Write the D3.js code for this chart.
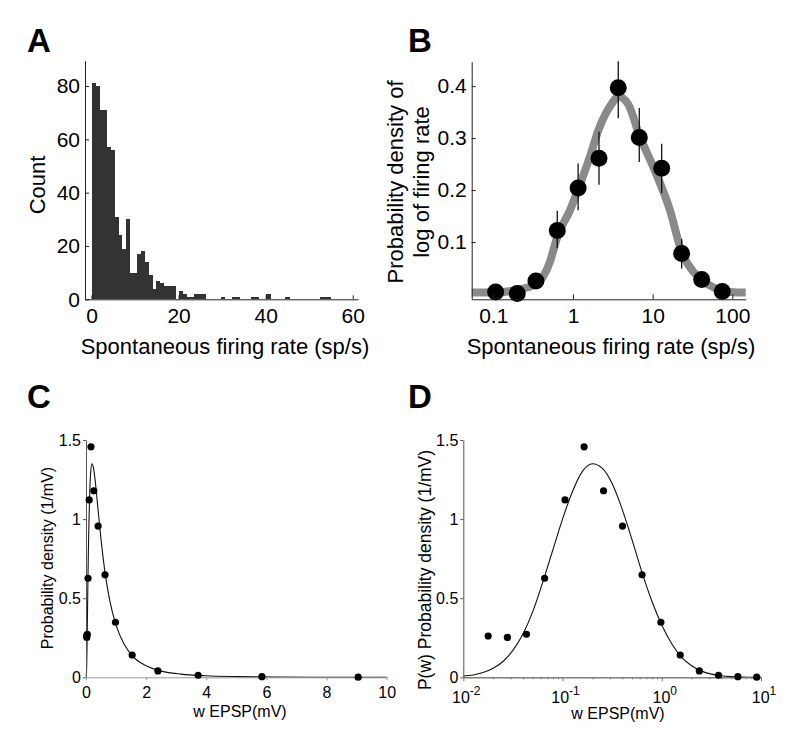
<!DOCTYPE html>
<html><head><meta charset="utf-8">
<script src="https://cdn.jsdelivr.net/npm/d3@7"></script>
<style>
body{margin:0;background:#fff}
svg{display:block}
text{font-family:"Liberation Sans",Arial,Helvetica,sans-serif}
</style>
</head><body>
<svg id="chart" width="800" height="748"></svg>
<script>
// ---------- Panel A : histogram of spontaneous firing rate ----------
const histBinWidth = 0.873;
const histCounts = [81,80,71,71,57,56,31,24,19,30,10,10,17,18,14,9,4,7,6,5,5,5,0,3,2,1,1,2,2,2,
  0,0,0,0,1,0,0,1,1,0,0,0,1,1,0,0,2,0,0,0,0,1,0,0,0,0,0,0,0,0,1,1,1];
const countTicks = [0,20,40,60,80];
const rateTicksA = [0,20,40,60];

// ---------- Panel B : density of log firing rate ----------
const rateB   = [0.107,0.2,0.343,0.635,1.16,2.12,3.70,6.79,12.97,23.1,41.2,74.7];
const densB   = [0.004,0.001,0.025,0.122,0.204,0.261,0.397,0.301,0.242,0.078,0.028,0.005];
const errLoB  = [0.001,-0.002,0.015,0.088,0.161,0.210,0.338,0.254,0.194,0.049,0.016,0.002];
const errHiB  = [0.007,0.004,0.035,0.160,0.251,0.312,0.448,0.358,0.289,0.106,0.042,0.008];
const fitRateB = [0.0536,0.110,0.197,0.343,0.514,0.635,0.916,1.17,1.63,2.08,2.65,3.06,3.70,4.94,6.79,10.2,16.5,23.1,32.3,40.4,57.5,76.9,113,147];
const fitDensB = [0.003,0.003,0.008,0.019,0.062,0.110,0.161,0.203,0.264,0.315,0.351,0.366,0.380,0.365,0.306,0.244,0.161,0.081,0.043,0.028,0.013,0.006,0.003,0.003];
const rateTicksB = [0.1,1,10,100];
const densTicksB = [0.1,0.2,0.3,0.4];

// ---------- Panels C & D : EPSP amplitude distribution ----------
const epspW = [0.0178,0.0278,0.0433,0.066,0.106,0.165,0.259,0.402,0.633,0.98,1.535,2.39,3.73,5.85,9.05];
const epspP = [0.261,0.252,0.272,0.626,1.121,1.457,1.179,0.956,0.648,0.348,0.141,0.040,0.013,0.004,0.001];
const fitW = [0.01,0.0126,0.0158,0.02,0.0251,0.0316,0.0398,0.0501,0.0631,0.0794,0.1,0.126,0.158,0.2,0.251,0.316,0.398,0.501,0.631,0.794,1,1.26,1.58,2.0,2.51,3.16,3.98,5.01,6.31,7.94,10];
const fitP = [0.008,0.015,0.030,0.057,0.100,0.170,0.272,0.415,0.600,0.800,1.000,1.175,1.300,1.350,1.322,1.225,1.065,0.870,0.665,0.482,0.330,0.212,0.128,0.073,0.039,0.020,0.0096,0.0043,0.0018,0.0007,0.0003];
const pTicks = [0,0.5,1,1.5];
const wTicksC = [0,2,4,6,8,10];
const wExpD = [-2,-1,0,1];

const svg = d3.select("#chart");
const FONT = '"Liberation Sans",Arial,Helvetica,sans-serif';

function styleAxis(g, size, lineColor){
  g.attr("font-family", FONT).attr("font-size", size);
  g.select(".domain").attr("stroke", lineColor).attr("stroke-width", 1);
  g.selectAll(".tick line").attr("stroke", lineColor);
  g.selectAll(".tick text").attr("fill", "#000");
}

// panel letters
[["A",27,52],["B",408,52],["C",27,408],["D",408,408]].forEach(([t,x,y])=>{
  svg.append("text").attr("x",x).attr("y",y).attr("font-size",33).attr("font-weight","bold").text(t);
});

// ===== Panel A =====
const xA = d3.scaleLinear().domain([-1.5, 61.2]).range([85, 358]);
const yA = d3.scaleLinear().domain([0, 89.5]).range([299.3, 60.7]);
const histData = histCounts.map((c,i)=>({c, x0:i*histBinWidth, x1:(i+1)*histBinWidth})).filter(d=>d.c>0);
svg.append("g").attr("shape-rendering","crispEdges").selectAll("rect").data(histData).join("rect")
  .attr("x", d=>xA(d.x0)).attr("width", d=>xA(d.x1)-xA(d.x0)+0.4)
  .attr("y", d=>yA(d.c)).attr("height", d=>yA(0)-yA(d.c))
  .attr("fill", "#333");
const gAy = svg.append("g").attr("transform","translate(85,0)")
  .call(d3.axisLeft(yA).tickValues(countTicks).tickSize(-4).tickSizeOuter(0).tickPadding(5));
styleAxis(gAy, 21, "#222");
const gAx = svg.append("g").attr("transform","translate(0,299.3)")
  .call(d3.axisBottom(xA).tickValues(rateTicksA).tickSize(-4).tickSizeOuter(0).tickPadding(9));
styleAxis(gAx, 21, "#222");
svg.append("text").attr("x",225).attr("y",354).attr("text-anchor","middle").attr("font-size",22)
  .text("Spontaneous firing rate (sp/s)");
svg.append("text").attr("transform","translate(45,185) rotate(-90)").attr("text-anchor","middle")
  .attr("font-size",22).text("Count");

// ===== Panel B =====
const xB = d3.scaleLog().domain([0.0536, 147]).range([471.7, 745.7]);
const yB = d3.scaleLinear().domain([-0.0102, 0.447]).range([299.3, 61.7]);
const fitB = fitRateB.map((r,i)=>({r, d:fitDensB[i]}));
svg.append("path").datum(fitB)
  .attr("d", d3.line().x(d=>xB(d.r)).y(d=>yB(d.d)).curve(d3.curveMonotoneX))
  .attr("fill","none").attr("stroke","#8a8a8a").attr("stroke-width",8).attr("stroke-linejoin","round");
const ptsB = rateB.map((r,i)=>({r, d:densB[i], lo:errLoB[i], hi:errHiB[i]}));
svg.append("g").selectAll("line").data(ptsB).join("line")
  .attr("x1", d=>xB(d.r)).attr("x2", d=>xB(d.r))
  .attr("y1", d=>yB(d.lo)).attr("y2", d=>yB(d.hi))
  .attr("stroke","#111").attr("stroke-width",1.3);
svg.append("g").selectAll("circle").data(ptsB).join("circle")
  .attr("cx", d=>xB(d.r)).attr("cy", d=>yB(d.d)).attr("r", 8.5).attr("fill","#000");
const gBy = svg.append("g").attr("transform","translate(471.7,0)")
  .call(d3.axisLeft(yB).tickValues(densTicksB).tickFormat(d3.format(".1f")).tickSize(-4).tickSizeOuter(0).tickPadding(5));
styleAxis(gBy, 21, "#222");
const gBx = svg.append("g").attr("transform","translate(0,299.3)")
  .call(d3.axisBottom(xB).tickValues(rateTicksB).tickFormat(d=>String(d)).tickSize(-5).tickSizeOuter(0).tickPadding(9));
styleAxis(gBx, 21, "#222");
svg.append("text").attr("x",611).attr("y",354).attr("text-anchor","middle").attr("font-size",22)
  .text("Spontaneous firing rate (sp/s)");
svg.append("text").attr("transform","translate(403,182) rotate(-90)").attr("text-anchor","middle")
  .attr("font-size",22).text("Probability density of");
svg.append("text").attr("transform","translate(429,182) rotate(-90)").attr("text-anchor","middle")
  .attr("font-size",22).text("log of firing rate");

// ===== Panel C =====
const xC = d3.scaleLinear().domain([0, 10]).range([86, 386.7]);
const yC = d3.scaleLinear().domain([0, 1.5]).range([677.3, 440]);
const fitPts = fitW.map((w,i)=>({w, p:fitP[i]}));
const epspPts = epspW.map((w,i)=>({w, p:epspP[i]}));
svg.append("path").datum(fitPts)
  .attr("d", d3.line().x(d=>xC(d.w)).y(d=>yC(d.p)).curve(d3.curveMonotoneX))
  .attr("fill","none").attr("stroke","#111").attr("stroke-width",1.1);
const gCy = svg.append("g").attr("transform","translate(86,0)")
  .call(d3.axisLeft(yC).tickValues(pTicks).tickFormat(d=>String(d)).tickSize(3).tickSizeOuter(0).tickPadding(2));
styleAxis(gCy, 16, "#555");
const gCx = svg.append("g").attr("transform","translate(0,677.3)")
  .call(d3.axisBottom(xC).tickValues(wTicksC).tickSize(3).tickSizeOuter(0).tickPadding(6));
styleAxis(gCx, 16, "#999");
svg.append("g").selectAll("circle").data(epspPts).join("circle")
  .attr("cx", d=>xC(d.w)).attr("cy", d=>yC(d.p)).attr("r", 3.6).attr("fill","#000");
svg.append("text").attr("x",240).attr("y",717).attr("text-anchor","middle").attr("font-size",16)
  .text("w EPSP(mV)");
svg.append("text").attr("transform","translate(52.5,558) rotate(-90)").attr("text-anchor","middle")
  .attr("font-size",16).text("Probability density (1/mV)");

// ===== Panel D =====
const xD = d3.scaleLog().domain([0.01, 10]).range([463.3, 761]);
const yD = d3.scaleLinear().domain([0, 1.5]).range([677.3, 440]);
svg.append("path").datum(fitPts)
  .attr("d", d3.line().x(d=>xD(d.w)).y(d=>yD(d.p)).curve(d3.curveMonotoneX))
  .attr("fill","none").attr("stroke","#111").attr("stroke-width",1.1);
const gDy = svg.append("g").attr("transform","translate(463.3,0)")
  .call(d3.axisLeft(yD).tickValues(pTicks).tickFormat(d=>String(d)).tickSize(3).tickSizeOuter(0).tickPadding(2));
styleAxis(gDy, 16, "#555");
const minorD = [];
wExpD.slice(0,-1).forEach(e=>{ for(let k=2;k<=9;k++) minorD.push(k*Math.pow(10,e)); });
const gDxm = svg.append("g").attr("transform","translate(0,677.3)")
  .call(d3.axisBottom(xD).tickValues(minorD).tickFormat("").tickSize(2).tickSizeOuter(0));
styleAxis(gDxm, 16, "#777");
const gDx = svg.append("g").attr("transform","translate(0,677.3)")
  .call(d3.axisBottom(xD).tickValues(wExpD.map(e=>Math.pow(10,e))).tickFormat("").tickSize(4).tickSizeOuter(0));
styleAxis(gDx, 16, "#777");
const dLab = svg.append("g").selectAll("text").data(wExpD).join("text")
  .attr("x", e=>xD(Math.pow(10,e))+3).attr("y",703).attr("text-anchor","middle").attr("font-size",16);
dLab.append("tspan").text("10");
dLab.append("tspan").attr("dy",-8).attr("font-size",12).text(e=>String(e));
svg.append("g").selectAll("circle").data(epspPts).join("circle")
  .attr("cx", d=>xD(d.w)).attr("cy", d=>yD(d.p)).attr("r", 3.6).attr("fill","#000");
svg.append("text").attr("x",618).attr("y",719).attr("text-anchor","middle").attr("font-size",16)
  .text("w EPSP(mV)");
svg.append("text").attr("transform","translate(431,570) rotate(-90)").attr("text-anchor","middle")
  .attr("font-size",17.5).text("P(w) Probability density (1/mV)");
</script>
</body></html>
